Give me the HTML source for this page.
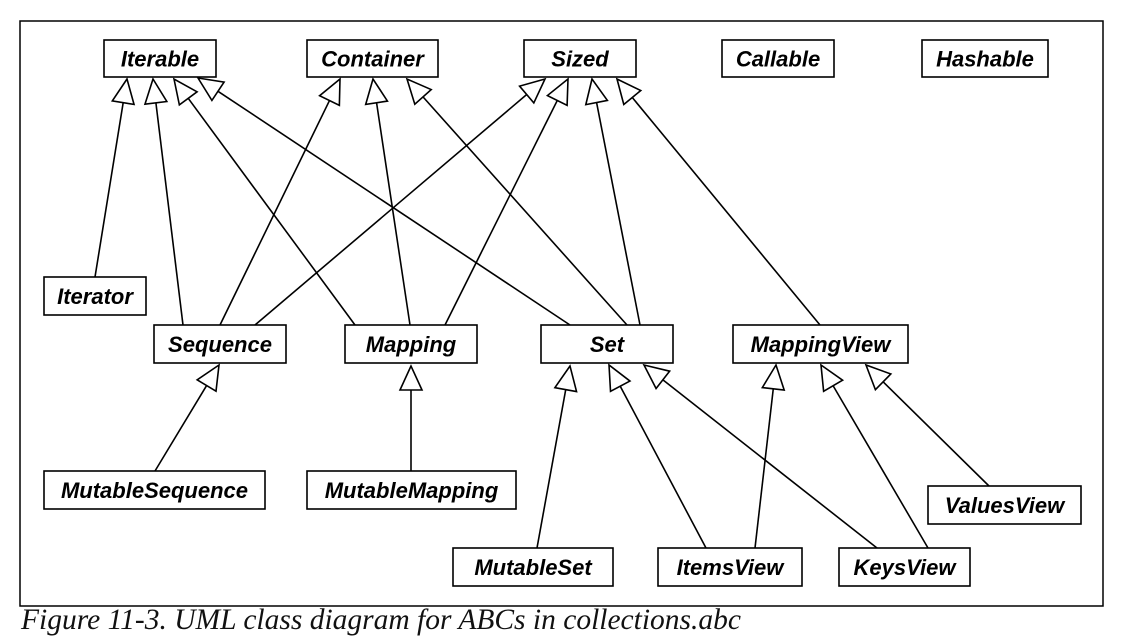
<!DOCTYPE html>
<html><head><meta charset="utf-8"><style>
html,body{margin:0;padding:0;background:#fff;width:1125px;height:638px;overflow:hidden}
svg{position:absolute;left:0;top:0}
.cap{position:absolute;left:21px;top:604px;font-family:"Liberation Serif",serif;font-style:italic;font-size:29.5px;color:#111;white-space:nowrap}
</style></head><body>
<svg id="s" width="1125" height="638" xmlns="http://www.w3.org/2000/svg">
<rect x="20" y="21" width="1083" height="585" fill="none" stroke="#000" stroke-width="1.5"/>
<g id="lines" stroke="#000" stroke-width="1.6" fill="#fff"></g>
<g id="boxes" font-family="Liberation Sans, sans-serif" font-weight="bold" font-style="italic" font-size="22" text-anchor="middle"></g>
</svg>
<div class="cap">Figure 11-3. UML class diagram for ABCs in collections.abc</div>
<script>
var boxes=[
["Iterable",104,40,112,37],["Container",307,40,131,37],["Sized",524,40,112,37],
["Callable",722,40,112,37],["Hashable",922,40,126,37],
["Iterator",44,277,102,38],["Sequence",154,325,132,38],["Mapping",345,325,132,38],
["Set",541,325,132,38],["MappingView",733,325,175,38],
["MutableSequence",44,471,221,38],["MutableMapping",307,471,209,38],
["ValuesView",928,486,153,38],["MutableSet",453,548,160,38],
["ItemsView",658,548,144,38],["KeysView",839,548,131,38]];
var arrows=[
[95,277,127,79],[183,325,153,79],[355,325,174,79],[570,325,198,78],
[220,325,340,79],[410,325,373,79],[627,325,407,79],
[255,325,545,79],[445,325,568,79],[640,325,592,79],[820,325,617,79],
[155,471,219,365],[411,471,411,366],
[537,548,570,366],[706,548,609,365],[877,548,644,365],
[755,548,776,365],[928,548,821,365],[989,486,866,365]];
var L=document.getElementById('lines'),B=document.getElementById('boxes'),ns="http://www.w3.org/2000/svg";
arrows.forEach(function(a){
 var sx=a[0],sy=a[1],tx=a[2],ty=a[3],dx=sx-tx,dy=sy-ty,d=Math.hypot(dx,dy),ux=dx/d,uy=dy/d;
 var bx=tx+24*ux,by=ty+24*uy,px=-uy*11,py=ux*11;
 var l=document.createElementNS(ns,'line');
 l.setAttribute('x1',sx);l.setAttribute('y1',sy);l.setAttribute('x2',bx);l.setAttribute('y2',by);L.appendChild(l);
 var p=document.createElementNS(ns,'polygon');
 p.setAttribute('points',tx+','+ty+' '+(bx+px)+','+(by+py)+' '+(bx-px)+','+(by-py));
 L.appendChild(p);
});
boxes.forEach(function(b){
 var r=document.createElementNS(ns,'rect');
 r.setAttribute('x',b[1]);r.setAttribute('y',b[2]);r.setAttribute('width',b[3]);r.setAttribute('height',b[4]);
 r.setAttribute('fill','#fff');r.setAttribute('stroke','#000');r.setAttribute('stroke-width','1.6');B.appendChild(r);
 var t=document.createElementNS(ns,'text');
 t.setAttribute('x',b[1]+b[3]/2);t.setAttribute('y',b[2]+b[4]/2+8);t.textContent=b[0];B.appendChild(t);
});
</script>
</body></html>
